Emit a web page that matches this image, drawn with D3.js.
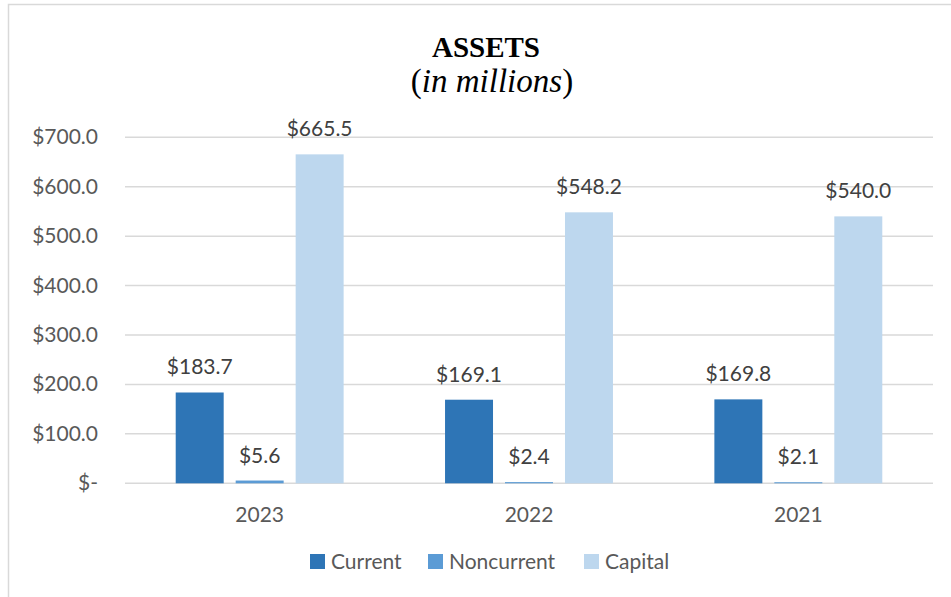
<!DOCTYPE html>
<html>
<head>
<meta charset="utf-8" />
<title>Assets</title>
<script src="https://d3js.org/d3.v7.min.js"></script>
<style>
  body { margin: 0; background: #fff; }
  svg { display: block; }
</style>
</head>
<body>
<svg width="951" height="597" id="svg1"></svg>
<script>
// data
var years = ["2023", "2022", "2021"];
var seriesNames = ["Current", "Noncurrent", "Capital"];
var current = [183.7, 169.1, 169.8];
var noncurrent = [5.6, 2.4, 2.1];
var capital = [665.5, 548.2, 540.0];
var yTicks = [0, 100, 200, 300, 400, 500, 600, 700];
var colors = ["#2E75B6", "#5B9BD5", "#BDD7EE"];

var seriesValues = [current, noncurrent, capital];
var rows = years.map(function (y, i) {
  return { year: y, values: seriesNames.map(function (s, j) { return { key: s, value: seriesValues[j][i] }; }) };
});

var svg = d3.select("#svg1");
var font = "Lato, 'Open Sans', sans-serif";

// chart frame
svg.append("rect").attr("x", 8.5).attr("y", 4.5).attr("width", 1000).attr("height", 1000)
  .attr("fill", "#fff").attr("stroke", "#d9d9d9").attr("stroke-width", 1.5);

// title
svg.append("text").attr("x", 486).attr("y", 57).attr("text-anchor", "middle")
  .attr("font-family", "'Liberation Serif', 'Times New Roman', serif")
  .attr("font-weight", "bold").attr("font-size", 29).attr("fill", "#000")
  .text("ASSETS");
var sub = svg.append("text").attr("x", 492).attr("y", 92).attr("text-anchor", "middle")
  .attr("font-family", "'Liberation Serif', 'Times New Roman', serif")
  .attr("font-size", 33).attr("fill", "#000");
sub.append("tspan").text("(");
sub.append("tspan").attr("font-style", "italic").text("in millions");
sub.append("tspan").text(")");

// scales
var left = 125, right = 933;
var y = d3.scaleLinear().domain([0, 700]).range([483.3, 137.3]);
var x0 = d3.scaleBand().domain(years).range([left, right]).paddingInner(0.332).paddingOuter(0.166);
var x1 = d3.scaleBand().domain(seriesNames).range([0, x0.bandwidth()]).paddingInner(0.2).paddingOuter(0.1);
var color = d3.scaleOrdinal().domain(seriesNames).range(colors);

// gridlines
svg.append("g").selectAll("line").data(yTicks).enter().append("line")
  .attr("x1", left).attr("x2", right)
  .attr("y1", function (d) { return y(d); }).attr("y2", function (d) { return y(d); })
  .attr("stroke", "#d9d9d9").attr("stroke-width", 1.5);

// y axis labels
svg.append("g").selectAll("text").data(yTicks).enter().append("text")
  .attr("x", 98).attr("y", function (d) { return y(d) + 7; })
  .attr("text-anchor", "end").attr("font-family", font).attr("font-size", 21).attr("fill", "#595959")
  .text(function (d) { return d === 0 ? "$-" : "$" + d3.format(".1f")(d); });

// bars
var groups = svg.append("g").selectAll("g").data(rows).enter().append("g")
  .attr("transform", function (d) { return "translate(" + x0(d.year) + ",0)"; });

groups.selectAll("rect").data(function (d) { return d.values; }).enter().append("rect")
  .attr("x", function (d) { return x1(d.key); })
  .attr("y", function (d) { return y(d.value); })
  .attr("width", x1.bandwidth())
  .attr("height", function (d) { return y(0) - y(d.value); })
  .attr("fill", function (d) { return color(d.key); });

// data labels
groups.selectAll("text").data(function (d) { return d.values; }).enter().append("text")
  .attr("x", function (d) { return x1(d.key) + x1.bandwidth() / 2; })
  .attr("y", function (d) { return y(d.value) - 18; })
  .attr("text-anchor", "middle").attr("font-family", font).attr("font-size", 21).attr("fill", "#404040")
  .text(function (d) { return "$" + d3.format(".1f")(d.value); });

// x axis labels
svg.append("g").selectAll("text").data(years).enter().append("text")
  .attr("x", function (d) { return x0(d) + x0.bandwidth() / 2; })
  .attr("y", 522)
  .attr("text-anchor", "middle").attr("font-family", font).attr("font-size", 21).attr("fill", "#595959")
  .text(function (d) { return d; });

// legend
var legendX = [310, 428, 584];
var legend = svg.append("g").selectAll("g").data(seriesNames).enter().append("g")
  .attr("transform", function (d, i) { return "translate(" + legendX[i] + ",554)"; });
legend.append("rect").attr("width", 15).attr("height", 15).attr("fill", function (d) { return color(d); });
legend.append("text").attr("x", 21).attr("y", 15)
  .attr("font-family", font).attr("font-size", 21).attr("fill", "#595959")
  .text(function (d) { return d; });
</script>
</body>
</html>
